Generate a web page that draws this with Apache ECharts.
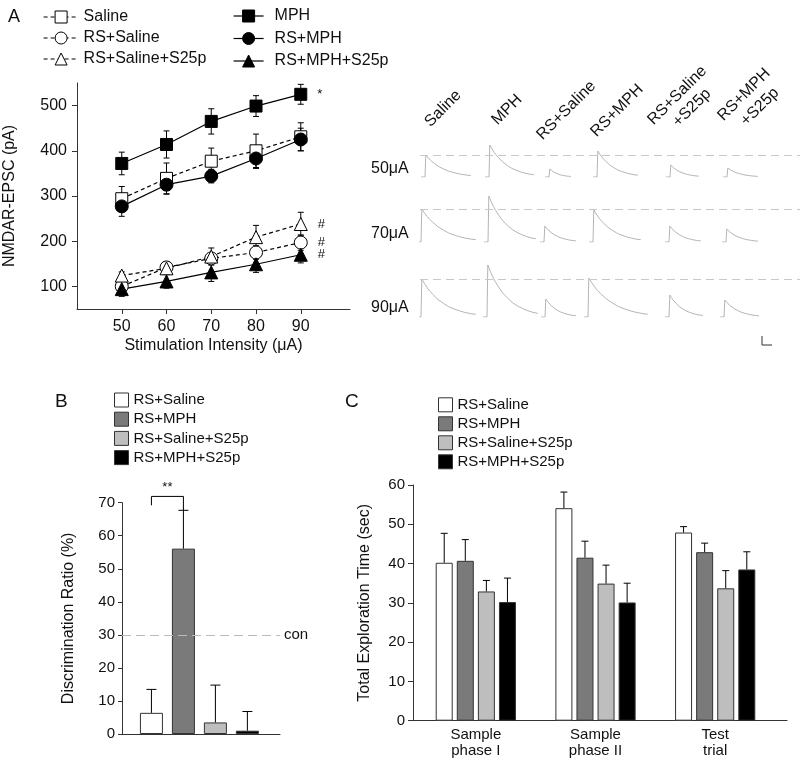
<!DOCTYPE html>
<html><head><meta charset="utf-8">
<script src="https://cdn.jsdelivr.net/npm/echarts@6/dist/echarts.min.js"></script>
<style>html,body{margin:0;padding:0;background:#fff}#c{width:800px;height:765px}</style>
</head><body><div id="c"></div>
<script>
// ---------- Panel A: NMDAR-EPSC vs stimulation intensity ----------
var aIntensity = [50, 60, 70, 80, 90];
var aXTicks = [50, 60, 70, 80, 90];
var aYTicks = [100, 200, 300, 400, 500];
var aSaline = [294, 339, 377, 400, 431];
var aSalineErr = [27, 34, 29, 37, 31];
var aRSSaline = [100, 142, 162, 175, 197];
var aRSSalineErr = [6, 12, 10, 15, 17];
var aRSSalineS25p = [124, 140, 166, 209, 238];
var aRSSalineS25pErr = [8, 12, 19, 26, 26];
var aMPH = [372, 414, 465, 499, 525];
var aMPHErr = [25, 30, 28, 23, 22];
var aRSMPH = [277, 325, 344, 383, 425];
var aRSMPHErr = [22, 21, 15, 22, 25];
var aRSMPHS25p = [94, 111, 131, 149, 170];
var aRSMPHS25pErr = [16, 15, 20, 18, 18];

// ---------- Panel A: example traces ----------
var traceGroups = ['Saline', 'MPH', 'RS+Saline', 'RS+MPH', 'RS+Saline\n+S25p', 'RS+MPH\n+S25p'];
var traceRows = ['50μA', '70μA', '90μA'];
var traceOnset = [[5, 69, 129, 177, 250, 307], [1, 68, 124, 173, 249, 306], [1, 67, 125, 168, 249, 304]];
var traceDuration = [[45, 44, 21, 40, 28, 30], [54, 47, 31, 47, 31, 31], [54, 50, 30, 59, 33, 34]];
var tracePeak = [[22, 32, 8, 26, 12, 9], [33, 46, 16, 32, 16, 13], [38, 52, 18, 39, 22, 17]];
var decayTime = [0, 0.05, 0.1, 0.15, 0.2, 0.3, 0.4, 0.5, 0.6, 0.7, 0.8, 0.9, 1.0];
var decayLevel = [1, 0.88, 0.77, 0.68, 0.6, 0.46, 0.36, 0.27, 0.21, 0.16, 0.12, 0.09, 0.07];

// ---------- Panel B: discrimination ratio ----------
var bGroups = ['RS+Saline', 'RS+MPH', 'RS+Saline+S25p', 'RS+MPH+S25p'];
var bValues = [6.4, 56.1, 3.5, 1.0];
var bErr = [7.1, 11.6, 11.3, 5.8];
var bControl = 30;

// ---------- Panel C: total exploration time ----------
var cPhases = ['Sample\nphase I', 'Sample\nphase II', 'Test\ntrial'];
var cRSSaline = [40.2, 54.1, 47.9];
var cRSSalineErr = [7.5, 4.1, 1.5];
var cRSMPH = [40.7, 41.5, 42.9];
var cRSMPHErr = [5.4, 4.2, 2.3];
var cRSSalineS25p = [32.9, 34.9, 33.7];
var cRSSalineS25pErr = [2.8, 4.7, 4.5];
var cRSMPHS25p = [30.2, 30.1, 38.5];
var cRSMPHS25pErr = [6.1, 4.9, 4.5];

var groupColors = ['#ffffff', '#7a7a7a', '#bebebe', '#000000'];

// ---------- build ----------
var FONT = "'Liberation Sans', Arial, Helvetica, sans-serif";
var INK = '#111';
var AXIS = '#333';
var chart = echarts.init(document.getElementById('c'));

function strip(n) { return n.replace(/^[A-Z]:/, ''); }

var aDefs = [
  { name: 'A:Saline', v: aSaline, e: aSalineErr, sym: 'rect', size: 12, open: true, dash: true, mark: '' },
  { name: 'A:RS+Saline', v: aRSSaline, e: aRSSalineErr, sym: 'circle', size: 13, open: true, dash: true, mark: '#' },
  { name: 'A:RS+Saline+S25p', v: aRSSalineS25p, e: aRSSalineS25pErr, sym: 'triangle', size: 13, open: true, dash: true, mark: '#' },
  { name: 'A:MPH', v: aMPH, e: aMPHErr, sym: 'rect', size: 12, open: false, dash: false, mark: '*' },
  { name: 'A:RS+MPH', v: aRSMPH, e: aRSMPHErr, sym: 'circle', size: 13, open: false, dash: false, mark: '' },
  { name: 'A:RS+MPH+S25p', v: aRSMPHS25p, e: aRSMPHS25pErr, sym: 'triangle', size: 13, open: false, dash: false, mark: '#' }
];

var series = [];
var aErrData = [];
aDefs.forEach(function (d) {
  var data = d.v.map(function (y, i) {
    var item = { value: [aIntensity[i], y] };
    if (i === d.v.length - 1 && d.mark) {
      item.label = { show: true, formatter: d.mark, position: 'right', distance: 10, fontSize: 13, color: INK, fontFamily: FONT };
    }
    aErrData.push([aIntensity[i], y, d.e[i]]);
    return item;
  });
  series.push({
    type: 'line', name: d.name, xAxisIndex: 0, yAxisIndex: 0, data: data, z: 3,
    symbol: d.sym, symbolSize: d.size, showAllSymbol: true,
    lineStyle: { color: '#000', width: 1.2, type: d.dash ? [4, 3] : 'solid' },
    itemStyle: { color: d.open ? '#ffffff' : '#000000', borderColor: '#000', borderWidth: 1 },
    emphasis: { disabled: true }
  });
});

function line(x1, y1, x2, y2) {
  return { type: 'line', shape: { x1: x1, y1: y1, x2: x2, y2: y2 }, style: { stroke: '#000', lineWidth: 1 } };
}

series.push({
  type: 'custom', name: 'aErr', xAxisIndex: 0, yAxisIndex: 0, z: 2, data: aErrData,
  encode: { x: 0, y: 1 },
  renderItem: function (params, api) {
    var x = api.value(0), y = api.value(1), e = api.value(2);
    var p1 = api.coord([x, y + e]), p2 = api.coord([x, y - e]);
    var h = 3;
    return { type: 'group', children: [
      line(p1[0], p1[1], p2[0], p2[1]),
      line(p1[0] - h, p1[1], p1[0] + h, p1[1]),
      line(p2[0] - h, p2[1], p2[0] + h, p2[1])
    ] };
  }
});

// Panel B bars
bGroups.forEach(function (g, k) {
  var s = {
    type: 'bar', name: 'B:' + g, xAxisIndex: 1, yAxisIndex: 1,
    data: [[k + 1, bValues[k]]], barWidth: 23, barGap: '-100%',
    itemStyle: { color: groupColors[k], borderColor: '#333', borderWidth: 1 },
    emphasis: { disabled: true }
  };
  if (k === 0) {
    s.markLine = {
      silent: true, symbol: 'none',
      lineStyle: { color: '#bbbbbb', type: [9, 5], width: 1 },
      label: { show: true, position: 'end', formatter: 'con', fontSize: 15, color: INK, fontFamily: FONT, distance: 4 },
      data: [{ yAxis: bControl }]
    };
  }
  series.push(s);
});
series.push({
  type: 'custom', name: 'bErr', xAxisIndex: 1, yAxisIndex: 1, z: 3,
  data: bValues.map(function (v, k) { return [k + 1, v, bErr[k]]; }),
  encode: { x: 0, y: 1 },
  renderItem: function (params, api) {
    var x = api.value(0), y = api.value(1), e = api.value(2);
    var p0 = api.coord([x, y]), p1 = api.coord([x, y + e]);
    var h = 5;
    return { type: 'group', children: [
      line(p0[0], p0[1], p1[0], p1[1]),
      line(p1[0] - h, p1[1], p1[0] + h, p1[1])
    ] };
  }
});
// significance bracket between RS+Saline and RS+MPH
series.push({
  type: 'custom', name: 'bSig', xAxisIndex: 1, yAxisIndex: 1, z: 3,
  data: [[1, 2, 71.9, 69.2, 67.7]],
  encode: { x: 0, y: 2 },
  renderItem: function (params, api) {
    var a = api.coord([api.value(0), api.value(2)]);
    var b = api.coord([api.value(1), api.value(2)]);
    var la = api.coord([api.value(0), api.value(3)]);
    var rb = api.coord([api.value(1), api.value(4)]);
    return { type: 'group', children: [
      { type: 'polyline', shape: { points: [[la[0], la[1]], [a[0], a[1]], [b[0], b[1]], [rb[0], rb[1]]] }, style: { stroke: '#000', lineWidth: 1, fill: null } },
      { type: 'text', x: (a[0] + b[0]) / 2, y: a[1] - 2, style: { text: '**', font: '13px ' + FONT, fill: INK, textAlign: 'center', textVerticalAlign: 'bottom', align: 'center', verticalAlign: 'bottom' } }
    ] };
  }
});

// Panel C bars
var cSets = [
  [cRSSaline, cRSSalineErr], [cRSMPH, cRSMPHErr], [cRSSalineS25p, cRSSalineS25pErr], [cRSMPHS25p, cRSMPHS25pErr]
];
var cErrData = [];
cSets.forEach(function (set, k) {
  series.push({
    type: 'bar', name: 'C:' + bGroups[k], xAxisIndex: 2, yAxisIndex: 2,
    data: set[0].map(function (v, i) { cErrData.push([i + 1, v, set[1][i], k]); return [i + 1, v]; }),
    barWidth: 17, barGap: '24%',
    itemStyle: { color: groupColors[k], borderColor: '#333', borderWidth: 1 },
    emphasis: { disabled: true }
  });
});
series.push({
  type: 'custom', name: 'cErr', xAxisIndex: 2, yAxisIndex: 2, z: 3, data: cErrData,
  encode: { x: 0, y: 1 },
  renderItem: function (params, api) {
    var x = api.value(0), y = api.value(1), e = api.value(2), k = api.value(3);
    var off = (k - 1.5) * (17 + 17 * 0.24);
    var p0 = api.coord([x, y]), p1 = api.coord([x, y + e]);
    var h = 3.5;
    return { type: 'group', children: [
      line(p0[0] + off, p0[1], p1[0] + off, p1[1]),
      line(p1[0] + off - h, p1[1], p1[0] + off + h, p1[1])
    ] };
  }
});

// Traces
var rowBase = [177, 242, 317];
var grids = [
  { left: 77, top: 83, width: 273, height: 226 },
  { left: 122, top: 502.7, width: 158, height: 231.3 },
  { left: 413, top: 485, width: 374, height: 235.7 }
];
var xAxes = [
  { gridIndex: 0, type: 'value', min: 40, max: 101,
    axisLine: { onZero: false, lineStyle: { color: AXIS, width: 1 } },
    axisTick: { customValues: aXTicks, length: 5, lineStyle: { color: AXIS } },
    axisLabel: { customValues: aXTicks, fontSize: 16, color: INK, margin: 10, fontFamily: FONT },
    splitLine: { show: false },
    name: 'Stimulation Intensity (μA)', nameLocation: 'middle', nameGap: 29,
    nameTextStyle: { fontSize: 16, color: INK, fontFamily: FONT } },
  { gridIndex: 1, type: 'value', min: 0.08, max: 5.02,
    axisLine: { onZero: false, lineStyle: { color: AXIS, width: 1 } },
    axisTick: { show: false }, axisLabel: { show: false }, splitLine: { show: false } },
  { gridIndex: 2, type: 'value', min: 0.475, max: 3.6,
    axisLine: { onZero: false, lineStyle: { color: AXIS, width: 1 } },
    axisTick: { show: false },
    axisLabel: { customValues: [1, 2, 3], formatter: function (v) { return cPhases[Math.round(v) - 1] || ''; },
      fontSize: 15, color: INK, margin: 6, lineHeight: 16, fontFamily: FONT },
    splitLine: { show: false } }
];
var yAxes = [
  { gridIndex: 0, type: 'value', min: 50, max: 550,
    axisLine: { show: true, onZero: false, lineStyle: { color: AXIS, width: 1 } },
    axisTick: { show: true, customValues: aYTicks, length: 5, lineStyle: { color: AXIS } },
    axisLabel: { customValues: aYTicks, fontSize: 16, color: INK, margin: 10, fontFamily: FONT },
    splitLine: { show: false },
    name: 'NMDAR-EPSC (pA)', nameLocation: 'middle', nameGap: 59,
    nameTextStyle: { fontSize: 16, color: INK, fontFamily: FONT } },
  { gridIndex: 1, type: 'value', min: 0, max: 70, interval: 10,
    axisLine: { show: true, onZero: false, lineStyle: { color: AXIS, width: 1 } },
    axisTick: { show: true, length: 4, lineStyle: { color: AXIS } },
    axisLabel: { fontSize: 15, color: INK, margin: 7, fontFamily: FONT },
    splitLine: { show: false },
    name: 'Discrimination Ratio (%)', nameLocation: 'middle', nameGap: 45,
    nameTextStyle: { fontSize: 16, color: INK, fontFamily: FONT } },
  { gridIndex: 2, type: 'value', min: 0, max: 60, interval: 10,
    axisLine: { show: true, onZero: false, lineStyle: { color: AXIS, width: 1 } },
    axisTick: { show: true, length: 5, lineStyle: { color: AXIS } },
    axisLabel: { fontSize: 15, color: INK, margin: 8, fontFamily: FONT },
    splitLine: { show: false },
    name: 'Total Exploration Time (sec)', nameLocation: 'middle', nameGap: 40,
    nameTextStyle: { fontSize: 16, color: INK, fontFamily: FONT } }
];

traceRows.forEach(function (rowName, r) {
  var gi = grids.length;
  grids.push({ left: 420, width: 380, top: rowBase[r] - 60, height: 60 });
  xAxes.push({ gridIndex: gi, type: 'value', min: 0, max: 380, show: false });
  yAxes.push({ gridIndex: gi, type: 'value', min: 0, max: 60, show: false });
  traceGroups.forEach(function (g, c) {
    var t0 = traceOnset[r][c], dur = traceDuration[r][c], pk = tracePeak[r][c];
    var data = [[t0 - 4, 0], [t0, 0]];
    decayTime.forEach(function (f, i) { data.push([t0 + 0.8 + f * dur, pk * decayLevel[i]]); });
    var s = {
      type: 'line', name: 'T' + r + c, xAxisIndex: gi, yAxisIndex: gi, data: data,
      showSymbol: false, symbol: 'none', silent: true,
      lineStyle: { color: '#b4b4b4', width: 1 }
    };
    if (c === 0) {
      s.markLine = { silent: true, symbol: 'none', label: { show: false },
        lineStyle: { color: '#c8c8c8', type: [8, 5], width: 1 },
        data: [{ yAxis: pk }] };
    }
    series.push(s);
  });
});

// Graphic texts (labels and scale bar)
var graphic = [
  { type: 'text', x: 8, y: 8, style: { text: 'A', font: '18px ' + FONT, fill: INK } },
  { type: 'text', x: 55, y: 392, style: { text: 'B', font: '19px ' + FONT, fill: INK } },
  { type: 'text', x: 345, y: 392, style: { text: 'C', font: '19px ' + FONT, fill: INK } }
];
var rowLabelY = [169, 233.5, 308];
traceRows.forEach(function (t, r) {
  graphic.push({ type: 'text', x: 371, y: rowLabelY[r], style: { text: t, font: '16px ' + FONT, fill: INK, textVerticalAlign: 'middle', verticalAlign: 'middle' } });
});
var colLabelPos = [
  [[433, 130]], [[500, 128]], [[545, 143]], [[599, 140]], [[656, 128], [681, 130]], [[726, 124], [749, 129]]
];
traceGroups.forEach(function (g, c) {
  var parts = g.split('\n');
  parts.forEach(function (p, j) {
    var pos = colLabelPos[c][j];
    graphic.push({ type: 'text', x: pos[0], y: pos[1], rotation: Math.PI / 4,
      style: { text: p, font: '16px ' + FONT, fill: INK, textAlign: 'left', align: 'left', textVerticalAlign: 'bottom', verticalAlign: 'bottom' } });
  });
});
graphic.push({ type: 'polyline', shape: { points: [[762, 336], [762, 345], [772, 345]] }, style: { stroke: '#333', lineWidth: 1, fill: null } });

var legendBase = { orient: 'vertical', selectedMode: false, padding: 0, formatter: strip, textStyle: { fontSize: 16, color: INK, fontFamily: FONT } };
var option = {
  animation: false,
  backgroundColor: '#ffffff',
  textStyle: { fontFamily: FONT },
  grid: grids,
  xAxis: xAxes,
  yAxis: yAxes,
  legend: [
    Object.assign({}, legendBase, { left: 43, top: 9, itemWidth: 35, itemHeight: 15, itemGap: 5,
      itemStyle: { borderWidth: 1 }, lineStyle: { width: 1.2 },
      data: ['A:Saline', 'A:RS+Saline', 'A:RS+Saline+S25p'] }),
    Object.assign({}, legendBase, { left: 233, top: 8, itemWidth: 30, itemHeight: 15, itemGap: 6.5,
      itemStyle: { borderWidth: 1 }, lineStyle: { width: 1.2 },
      textStyle: { fontSize: 16, color: INK, fontFamily: FONT, padding: [0, 0, 0, 6] },
      data: ['A:MPH', 'A:RS+MPH', 'A:RS+MPH+S25p'] }),
    Object.assign({}, legendBase, { left: 114, top: 392.5, itemWidth: 14, itemHeight: 14, itemGap: 4.2, icon: 'rect',
      itemStyle: { borderWidth: 1 }, textStyle: { fontSize: 15, color: INK, fontFamily: FONT },
      data: bGroups.map(function (g) { return 'B:' + g; }) }),
    Object.assign({}, legendBase, { left: 438, top: 397.3, itemWidth: 14, itemHeight: 14, itemGap: 4, icon: 'rect',
      itemStyle: { borderWidth: 1 }, textStyle: { fontSize: 15, color: INK, fontFamily: FONT },
      data: bGroups.map(function (g) { return 'C:' + g; }) })
  ],
  graphic: graphic,
  series: series
};
chart.setOption(option);
</script>
</body></html>
